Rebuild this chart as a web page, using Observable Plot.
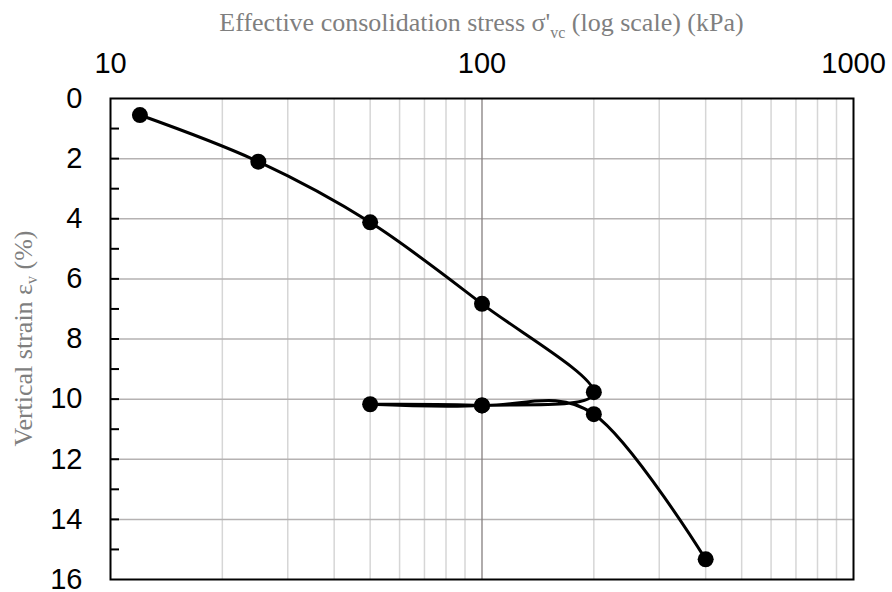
<!DOCTYPE html>
<html>
<head>
<meta charset="utf-8">
<script src="https://cdn.jsdelivr.net/npm/d3@7"></script>
<script src="https://cdn.jsdelivr.net/npm/@observablehq/plot@0.6"></script>
<style>
  body { margin: 0; background: #fff; }
  #title {
    height: 45px; margin-left: 110px; width: 743px; text-align: center;
    font-family: "Liberation Serif", "Times New Roman", serif; font-size: 26px;
    color: #7f7f7f; line-height: 46px; white-space: nowrap; overflow: visible;
  }
  #title sub { font-size: 16px; vertical-align: -7px; line-height: 0; }
  #chart svg { overflow: visible; display: block; }
</style>
</head>
<body>
<div id="title">Effective consolidation stress σ'<sub>vc</sub> (log scale) (kPa)</div>
<div id="chart"></div>
<script>
// Oedometer test: loading, unloading and reloading path
const stress = [12, 25, 50, 100, 200, 100, 50, 100, 200, 400];           // kPa
const strain = [0.55, 2.1, 4.12, 6.83, 9.77, 10.21, 10.17, 10.21, 10.5, 15.33]; // %

const xTicks = [10, 100, 1000];
const xMinorGrid = [20, 30, 40, 50, 60, 70, 80, 90, 200, 300, 400, 500, 600, 700, 800, 900];
const xMajorGrid = [100];
const yTicks = [0, 2, 4, 6, 8, 10, 12, 14, 16];
const yGrid = [2, 4, 6, 8, 10, 12, 14];
const yTickMarks = [1, 2, 3, 4, 5, 6, 7, 8, 9, 10, 11, 12, 13, 14, 15];

const data = stress.map((s, i) => ({stress: s, strain: strain[i]}));

const W = 892, H = 547;
const mL = 110, mR = 39, mT = 53, mB = 13;

const chart = Plot.plot({
  width: W, height: H,
  marginLeft: mL, marginRight: mR, marginTop: mT, marginBottom: mB,
  x: {type: "log", domain: [10, 1000]},
  y: {domain: [0, 16], reverse: true},
  style: {fontFamily: "'Liberation Sans', Arial, sans-serif", color: "black", background: "white", overflow: "visible"},
  marks: [
    Plot.ruleX(xMinorGrid, {stroke: "#d6d6d6", strokeWidth: 1.5}),
    Plot.ruleY(yGrid, {stroke: "#b5b2b2", strokeWidth: 1.5}),
    Plot.ruleX(xMajorGrid, {stroke: "#857f7f", strokeWidth: 1.3}),
    Plot.tickY(yTickMarks, {y: d => d, insetRight: W - mL - mR - 9, stroke: "black", strokeWidth: 2}),
    Plot.frame({stroke: "black", strokeWidth: 2}),
    Plot.axisX(xTicks, {anchor: "top", tickSize: 0, tickPadding: 26, label: null,
      tickFormat: d => String(d), fontSize: 29}),
    Plot.axisY(yTicks, {anchor: "left", tickSize: 0, tickPadding: 28, label: null, fontSize: 29}),
    Plot.line(data, {x: "stress", y: "strain", curve: "cardinal", stroke: "black", strokeWidth: 3}),
    Plot.dot(data, {x: "stress", y: "strain", r: 8, fill: "black", stroke: "none"})
  ]
});

// Rotated y-axis title with subscript
const yr = chart.scale("y").range;
const label = d3.select(chart).append("text")
  .attr("transform", `translate(32,${(yr[0] + yr[1]) / 2}) rotate(-90)`)
  .attr("text-anchor", "middle")
  .attr("fill", "#7f7f7f")
  .style("font-family", "'Liberation Serif', 'Times New Roman', serif")
  .style("font-size", "26px");
label.append("tspan").text("Vertical strain ε");
label.append("tspan").attr("dy", 5).style("font-size", "16px").text("v");
label.append("tspan").attr("dy", -5).text(" (%)");

document.getElementById("chart").appendChild(chart);
</script>
</body>
</html>
